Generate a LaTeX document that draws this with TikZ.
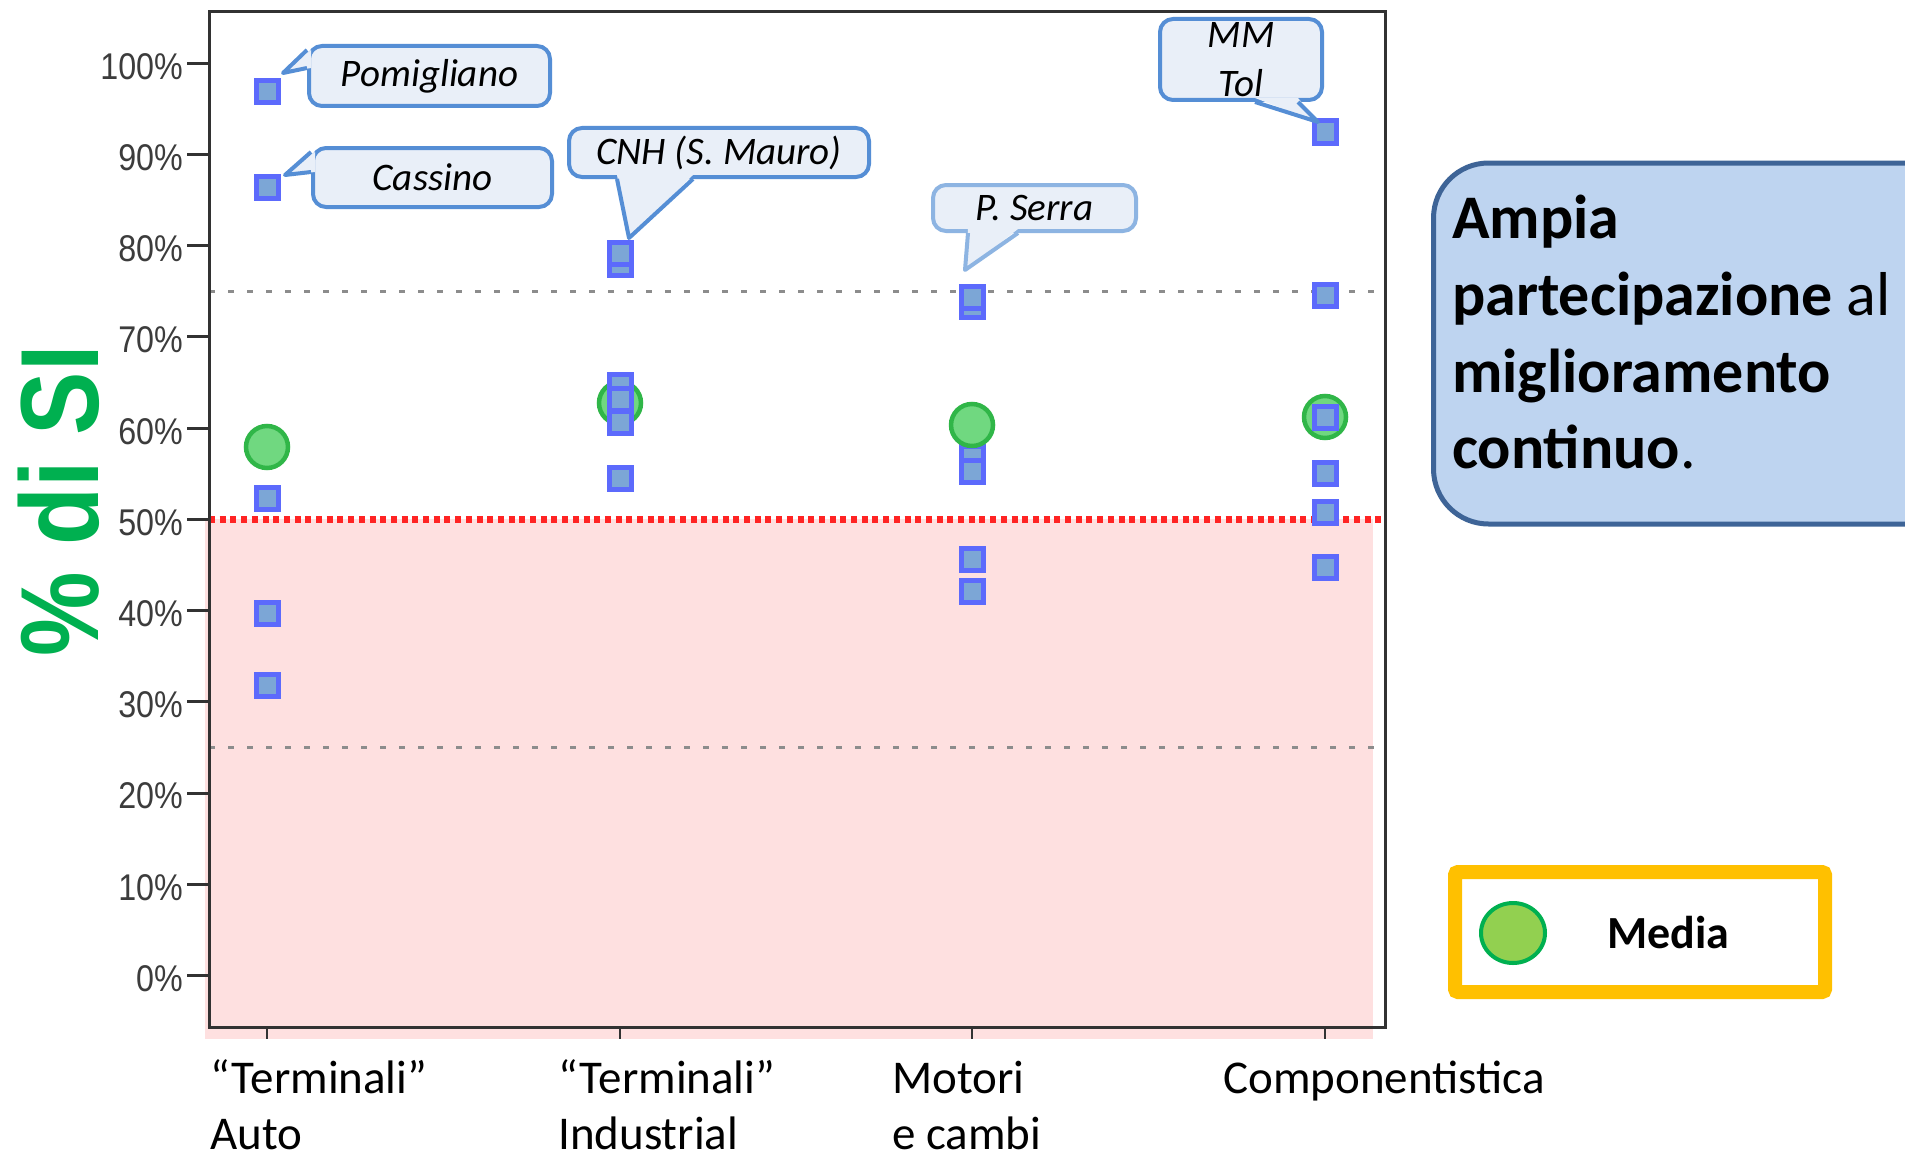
\documentclass[tikz,border=0pt]{standalone}
\usepackage{fontspec}
\setmainfont{Carlito}
\newfontfamily\arialf{Liberation Sans}
\usetikzlibrary{calc,shapes.geometric}
\definecolor{callborder}{RGB}{85,142,213}
\definecolor{callborderlight}{RGB}{141,180,226}
\definecolor{callfill}{RGB}{233,239,248}
\definecolor{bigborder}{RGB}{62,100,151}
\definecolor{bigfill}{RGB}{190,212,240}
\definecolor{sqborder}{RGB}{92,106,252}
\definecolor{sqfill}{RGB}{124,166,214}
\definecolor{cborder}{RGB}{48,182,72}
\definecolor{cfill}{RGB}{112,216,128}
\definecolor{titlegreen}{RGB}{0,176,80}
\definecolor{legendgold}{RGB}{255,192,0}
\definecolor{legendgreen}{RGB}{146,208,80}
\definecolor{pinkfill}{RGB}{254,224,224}
\definecolor{axisgray}{RGB}{50,50,50}
\definecolor{labelgray}{RGB}{60,60,60}
\definecolor{dashgray}{RGB}{140,140,140}
\definecolor{dotred}{RGB}{255,35,35}
\begin{document}
\begin{tikzpicture}[x=1pt,y=-1pt,
  sq/.style={rectangle, draw=sqborder, fill=sqfill, line width=5pt, minimum size=22pt, inner sep=0pt},
  meanpt/.style={circle, draw=cborder, fill=cfill, line width=4.5pt, minimum size=42pt, inner sep=0pt},
  callout/.style={rectangle, draw=callborder, fill=callfill, line width=4pt, rounded corners=13pt, inner sep=0pt, align=center, font=\fontsize{39}{49}\selectfont\itshape},
  ptr/.style={draw=callborder, line width=4pt, line join=round},
  ytick/.style={anchor=east, inner sep=0pt, text=labelgray, font=\arialf\fontsize{31}{36}\selectfont},
  catlabel/.style={anchor=base west, align=left, inner sep=0pt, font=\fontsize{47}{56}\selectfont},
  bigline/.style={anchor=base west, inner sep=0pt, font=\fontsize{62}{77}\selectfont}
]
\useasboundingbox (0,0) rectangle (1905,1153);
\fill[white] (0,0) rectangle (1905,1153);

% red area below 50%
\fill[pinkfill] (205,519.4) rectangle (1373,1039);

% reference lines
\draw[dashgray, line width=3pt, dash pattern=on 6pt off 13pt] (209,291.3) -- (1385,291.3);
\draw[dashgray, line width=3pt, dash pattern=on 6pt off 13pt] (209,747.5) -- (1385,747.5);
\draw[dotred, line width=7pt, dash pattern=on 6pt off 4.7pt] (209,519.4) -- (1385,519.4);

% frame
\draw[axisgray, line width=3pt] (209,12) rectangle (1385,1027);

% y ticks and labels
\foreach \p/\yy in {0/975.6,10/884.4,20/793.1,30/701.9,40/610.6,50/519.4,60/428.2,70/336.9,80/245.7,90/154.4,100/63.2}{
  \draw[axisgray, line width=3pt] (187,\yy) -- (209,\yy);
  \node[ytick] (yl\p) at (183,\yy+3) {\scalebox{1.04}[1.2]{\p\%}};
}

% x ticks
\foreach \xx in {267,620,972,1325}{
  \draw[axisgray, line width=2.5pt] (\xx,1027) -- (\xx,1039);
}

% y title
\node[rotate=90, text=titlegreen, font=\arialf\bfseries\fontsize{95}{110}\selectfont, inner sep=0pt] (ytitle) at (59,501) {\scalebox{1}[1.17]{\% di SI}};

% category labels (base anchor = last line)
\node[catlabel] (cat1) at (210,1149) {“Terminali”\\Auto};
\node[catlabel] (cat2) at (558,1149) {“Terminali”\\Industrial};
\node[catlabel] (cat3) at (892,1149) {Motori\\e cambi};
\node[catlabel] (cat4) at (1223,1093) {Componentistica};

% means
\node[meanpt] (am) at (267,447) {};
\node[meanpt] (bm) at (620,403) {};
\node[meanpt] (dm) at (1325,417) {};

% category 1
\node[sq] (a1) at (267,92) {};
\node[sq] (a2) at (267,187) {};
\node[sq] (a3) at (267,498) {};
\node[sq] (a4) at (267,613) {};
\node[sq] (a5) at (267,685) {};
% category 2
\node[sq] (b2) at (620,264) {};
\node[sq] (b1) at (620,253) {};
\node[sq] (b3) at (620,385) {};
\node[sq] (b4) at (620,399) {};
\node[sq] (b5) at (620,422) {};
\node[sq] (b6) at (620,478) {};
% category 3
\node[sq] (c2) at (972,306) {};
\node[sq] (c1) at (972,297) {};
\node[sq] (c3) at (972,457) {};
\node[sq] (c4) at (972,471) {};
\node[sq] (c5) at (972,559) {};
\node[sq] (c6) at (972,591) {};
\node[meanpt] (cm) at (972,425) {};
% category 4
\node[sq] (d1) at (1325,132) {};
\node[sq] (d2) at (1325,295) {};
\node[sq] (d3) at (1325,417) {};
\node[sq] (d4) at (1325,473) {};
\node[sq] (d5) at (1325,512) {};
\node[sq] (d6) at (1325,567) {};

% callouts
\node[callout, minimum width=241pt, minimum height=60pt] (cPom) at (429.5,76) {Pomigliano};
\coordinate (tPom) at (283,73);
\fill[callfill] ($(cPom.west)+(4,-26)$) -- (tPom) -- ($(cPom.west)+(4,-8)$) -- cycle;
\draw[ptr] ($(cPom.west)+(0,-26)$) -- (tPom) -- ($(cPom.west)+(0,-8)$);

\node[callout, minimum width=239pt, minimum height=59pt] (cCas) at (432.5,177.5) {Cassino};
\coordinate (tCas) at (285,175);
\fill[callfill] ($(cCas.west)+(4,-25.5)$) -- (tCas) -- ($(cCas.west)+(4,-5.5)$) -- cycle;
\draw[ptr] ($(cCas.west)+(0,-25.5)$) -- (tCas) -- ($(cCas.west)+(0,-5.5)$);

\node[callout, minimum width=300pt, minimum height=49pt] (cCNH) at (719,152.5) {CNH (S. Mauro)};
\coordinate (tCNH) at (629,238);
\fill[callfill] ($(cCNH.south)+(-102,-4)$) -- (tCNH) -- ($(cCNH.south)+(-26,-4)$) -- cycle;
\draw[ptr] ($(cCNH.south)+(-102,0)$) -- (tCNH) -- ($(cCNH.south)+(-26,0)$);

\node[callout, draw=callborderlight, minimum width=203pt, minimum height=46pt] (cSer) at (1034.5,208) {P. Serra};
\coordinate (tSer) at (965,270);
\fill[callfill] ($(cSer.south)+(-66.5,-4)$) -- (tSer) -- ($(cSer.south)+(-16.5,-4)$) -- cycle;
\draw[ptr, draw=callborderlight] ($(cSer.south)+(-66.5,0)$) -- (tSer) -- ($(cSer.south)+(-16.5,0)$);

\node[callout, minimum width=162pt, minimum height=81pt] (cMM) at (1241,59.5) {MM\\Tol};
\coordinate (tMM) at (1318,122);
\fill[callfill] ($(cMM.south)+(14,-4)$) -- (tMM) -- ($(cMM.south)+(57,-4)$) -- cycle;
\draw[ptr] ($(cMM.south)+(14,0)$) -- (tMM) -- ($(cMM.south)+(57,0)$);

% big text box
\node[rectangle, draw=bigborder, fill=bigfill, line width=5pt, rounded corners=55pt, minimum width=556pt, minimum height=361pt, inner sep=0pt] (bigbox) at (1711.5,343.5) {};
\node[bigline] (bt1) at (1452,238) {\bfseries Ampia};
\node[bigline] (bt2) at (1452,315) {{\bfseries partecipazione} al};
\node[bigline] (bt3) at (1452,392) {\bfseries miglioramento};
\node[bigline] (bt4) at (1452,468) {{\bfseries continuo}.};

% legend
\node[rectangle, draw=legendgold, line width=14pt, rounded corners=3pt, minimum width=370pt, minimum height=120pt, inner sep=0pt] (legend) at (1640,932) {};
\node[ellipse, draw=titlegreen, fill=legendgreen, line width=4pt, minimum width=64pt, minimum height=60pt, inner sep=0pt] (legdot) at (1513,933) {};
\node[anchor=base west, inner sep=0pt, font=\bfseries\fontsize{46}{56}\selectfont] (legtext) at (1607,948) {Media};
\end{tikzpicture}
\end{document}
